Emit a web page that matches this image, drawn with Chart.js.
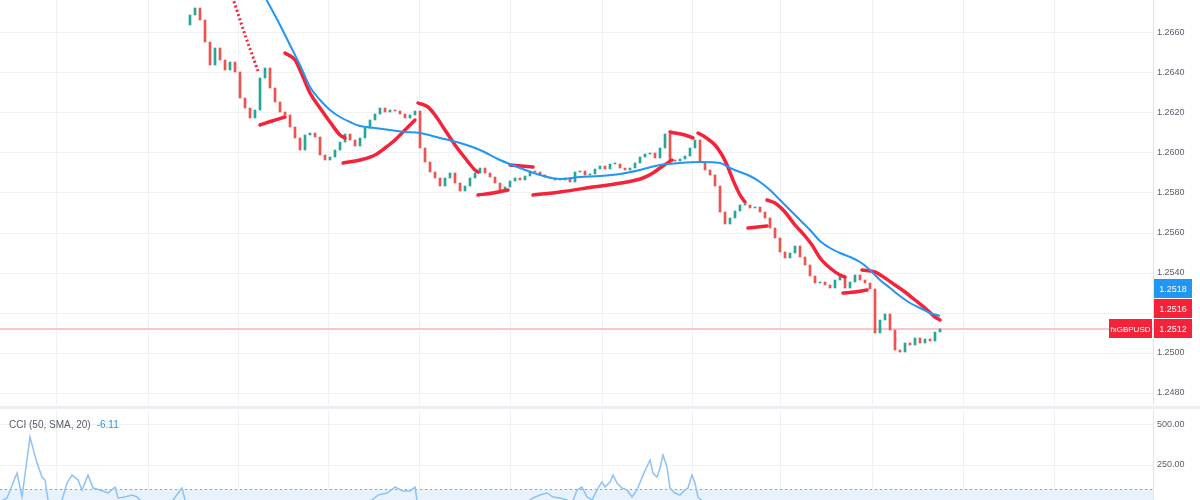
<!DOCTYPE html>
<html><head><meta charset="utf-8">
<script src="https://cdn.jsdelivr.net/npm/chart.js@4.4.1/dist/chart.umd.min.js"></script>
<style>
html,body{margin:0;padding:0;background:#fff;width:1200px;height:500px;overflow:hidden;font-family:"Liberation Sans",Arial,sans-serif;}
#main{position:absolute;left:0;top:0;width:1200px;height:405px;}
#sep{position:absolute;left:0;top:406px;width:1200px;height:3px;background:#eceef2;}
#cci{position:absolute;left:0;top:410px;width:1200px;height:90px;}
#cciLabel{position:absolute;left:9px;top:419px;font-size:10px;line-height:12px;color:#555b66;white-space:nowrap;}
#cciLabel span{color:#2196f3;margin-left:6px;}
</style></head><body>
<div id="main"><canvas id="c1" width="1200" height="405"></canvas></div>
<div id="sep"></div>
<div id="cci"><canvas id="c2" width="1200" height="90"></canvas></div>
<div id="cciLabel">CCI (50, SMA, 20)<span>-6.11</span></div>
<script>
// ---------- data ----------
const symbol = "fxGBPUSD";
const startOpen = 1.2664;
const closes = [
 1.2669, 1.26725, 1.26665, 1.26555, 1.2644, 1.26525, 1.26465, 1.26415, 1.26455, 1.26405,
 1.26275, 1.26225, 1.26175, 1.26215, 1.26375, 1.26425, 1.26325, 1.26255, 1.26205, 1.2619,
 1.2613, 1.26075, 1.26015, 1.2609, 1.2610, 1.2608, 1.2599, 1.25965, 1.2598, 1.26015,
 1.26055, 1.26095, 1.26065, 1.26035, 1.26075, 1.26125, 1.26165, 1.26195, 1.26225, 1.26205,
 1.26215, 1.2621, 1.26195, 1.26175, 1.2619, 1.2621, 1.26025, 1.25955, 1.25905, 1.25875,
 1.25835, 1.25875, 1.2590, 1.2585, 1.2581, 1.25835, 1.25875, 1.2590, 1.25925, 1.2590,
 1.2588, 1.2585, 1.25815, 1.2583, 1.2586, 1.25875, 1.25865, 1.25885, 1.2591, 1.25905,
 1.2589, 1.2588, 1.25875, 1.25865, 1.25865, 1.25875, 1.25855, 1.25905, 1.2591, 1.2589,
 1.25895, 1.2592, 1.25935, 1.2592, 1.25945, 1.25945, 1.25925, 1.25915, 1.25925, 1.2595,
 1.2598, 1.25995, 1.2600, 1.25975, 1.26025, 1.26095, 1.25965, 1.2596, 1.2597, 1.25985,
 1.26025, 1.26065, 1.25955, 1.25915, 1.2589, 1.25835, 1.25705, 1.25645, 1.25675, 1.2571,
 1.2574, 1.2574, 1.25725, 1.2573, 1.25705, 1.25675, 1.25625, 1.25575, 1.25505, 1.25475,
 1.2550, 1.25535, 1.2548, 1.2544, 1.25385, 1.2535, 1.25355, 1.2534, 1.25325, 1.25365,
 1.25385, 1.25325, 1.25355, 1.2539, 1.25365, 1.2535, 1.2532, 1.2510, 1.25165, 1.25195,
 1.25115, 1.25015, 1.25005, 1.2505, 1.2504, 1.25075, 1.2505, 1.2507, 1.2506, 1.25105,
 1.2512
];
const blueIdx = [15,18,20,22,24,26,28,30,32,34,37,40,43,46,50,54,58,62,66,70,74,78,82,86,90,94,98,102,106,108,110,112,114,116,118,120,122,124,126,128,130,132,134,136,138,140,142,144,146,148,150];
const blueVal = [1.2678,1.2664,1.2654,1.2644,1.2633,1.26265,1.26215,1.2618,1.26155,1.26135,1.26125,1.26115,1.26105,1.2610,1.26075,1.2605,1.26015,1.25965,1.25925,1.2589,1.2587,1.2588,1.25885,1.25895,1.25915,1.2594,1.2595,1.25955,1.2595,1.25925,1.25905,1.25885,1.25855,1.25815,1.25765,1.25715,1.25665,1.25615,1.2556,1.25525,1.2550,1.2548,1.25455,1.25415,1.25365,1.25325,1.25285,1.2525,1.25225,1.2520,1.25185];
const redDotted = [[8.5,1.2678],[11,1.2659],[13.6,1.2641]];
const redSegments = [
 [[14,1.2614],[16.4,1.2616],[19,1.2618]],
 [[19,1.2650],[21,1.26465],[22,1.26415],[24,1.2630],[26,1.26225],[28,1.26155],[30,1.2609],[31,1.26075]],
 [[30.6,1.2595],[34,1.25965],[37,1.2599],[39,1.26025],[41,1.26065],[43,1.26115],[45,1.26165]],
 [[45.6,1.2625],[47.6,1.2623],[49,1.2619],[51,1.26115],[53,1.2604],[55,1.25975],[57,1.25915],[57.6,1.25905]],
 [[57.6,1.2579],[60.6,1.2580],[63.6,1.25815]],
 [[64,1.2594],[68.6,1.2593]],
 [[68.6,1.2579],[74,1.25805],[80.6,1.2583],[87.4,1.25855],[90.6,1.25875],[92.6,1.2590],[94,1.25925],[96.4,1.25965]],
 [[96,1.26105],[99,1.2609],[100.6,1.26075]],
 [[101.6,1.2610],[103,1.2608],[105,1.2604],[106.4,1.2599],[107.4,1.2594],[108.6,1.25865],[110,1.2579],[111,1.25755]],
 [[111.6,1.25625],[115.4,1.25635]],
 [[115.4,1.25765],[117,1.2575],[119,1.25705],[121,1.2564],[123,1.25585],[124.4,1.2554],[126,1.25475],[128,1.25425],[130,1.2539],[131,1.2538]],
 [[130.6,1.2530],[133,1.25305],[135.4,1.25315]],
 [[134.4,1.25415],[137,1.25405],[139,1.25375],[141,1.2534],[143,1.25305],[145,1.25265],[147,1.25225],[149,1.2518],[150,1.25165]]
];
const cciIdx = [-38,-36.6,-34.6,-33.6,-32,-30.6,-29.6,-29,-28.4,-27.6,-26,-24.6,-23.6,-22.4,-21.6,-20.4,-19.4,-18,-16.4,-15,-14.4,-13,-11.6,-10.6,-9,-5,-3.4,-1.6,-1,0,2,8,14,20,26,32,35,36.4,37.6,39.4,41,42.6,44,45,45.4,47,54,60,64,67,68.6,70,71.4,72.6,74,75.4,76.4,77.4,78.4,79.4,80.4,81.4,82.4,83,84,84.6,85.4,86.4,87.4,88.4,89.4,90.6,92,92.6,93.4,94,94.6,95.4,96,97,98,99,99.6,100.4,101,101.6,102.6,105,108,114,120,126,132,137,142,146,150];
const cciVal = [20,44,200,50,425,262,175,156,31,-40,-10,137,187,156,94,187,106,94,75,112,44,50,62,50,0,-30,31,106,31,-60,-120,-180,-60,-140,-160,-20,10,31,62,75,112,88,88,112,31,-150,-110,-40,-60,10,44,62,75,50,44,31,10,94,112,50,31,94,144,112,144,187,137,106,94,50,94,187,281,200,175,231,312,237,106,75,62,94,106,187,137,50,20,-120,-200,-150,-180,-120,-60,-180,-150,-60,-6.11];
const priceTicks = [1.2480,1.2500,1.2520,1.2540,1.2560,1.2580,1.2600,1.2620,1.2640,1.2660];
const cciTicks = [250,500];
const cciBand = [-100,100];
const timeTicks = [-26.6,-8.4,9.6,27.6,45.8,64,82.4,100.4,118,136.4,154.6,172.8];

// ---------- style ----------
const FONT = '"Liberation Sans", Arial, sans-serif';
const RED = '#f4233a', BLUE = '#2196f3', UP = '#26a69a', DOWN = '#ef5350';
const GRID = '#f0f1f5', AXIS_W = 47;
const X_MIN = -38, X_MAX = 192.6;

const xScale = () => ({
  type:'linear', min:X_MIN, max:X_MAX, offset:false,
  afterBuildTicks: s => { s.ticks = timeTicks.map(v => ({value:v})); },
  ticks:{display:false}, grid:{color:GRID, drawTicks:false, offset:false}, border:{display:false}
});
const fitY = s => { s.width = AXIS_W; s.paddingTop = 0; s.paddingBottom = 0; };

const candles = closes.map((c,i) => ({x:i, y:[i ? closes[i-1] : startOpen, c]}));
const candleColors = candles.map(d => d.y[1] >= d.y[0] ? UP : DOWN);
const lastClose = closes[closes.length-1];
const blueLast = blueVal[blueVal.length-1];
const lastSeg = redSegments[redSegments.length-1];
const redLast = lastSeg[lastSeg.length-1][1];

const pricePlugin = {
  id:'priceMarks',
  beforeDatasetsDraw(chart){
    const {ctx, chartArea:a, scales:{y}} = chart;
    const py = Math.round(y.getPixelForValue(lastClose));
    ctx.save(); ctx.fillStyle = '#f9c6cb';
    ctx.fillRect(a.left, py - 1, a.right - a.left, 2); ctx.restore();
  },
  afterDraw(chart){
    const {ctx, chartArea:a, scales:{y}} = chart;
    const h = 19;
    const yLast = y.getPixelForValue(lastClose);
    const yRed = Math.min(y.getPixelForValue(redLast), yLast - h - 1);
    const yBlue = Math.min(y.getPixelForValue(blueLast), yRed - h - 1);
    ctx.save();
    ctx.textAlign = 'center'; ctx.textBaseline = 'middle';
    const box = (x, w, cy, col, txt, fs) => {
      ctx.font = fs + 'px ' + FONT;
      ctx.fillStyle = col; ctx.fillRect(x, Math.round(cy - h/2), w, h);
      ctx.fillStyle = '#fff'; ctx.fillText(txt, x + w/2, cy + 0.5);
    };
    box(a.right + 1, 38, yBlue, BLUE, blueLast.toFixed(4), 9);
    box(a.right + 1, 38, yRed, RED, redLast.toFixed(4), 9);
    box(a.right + 1, 38, yLast, RED, lastClose.toFixed(4), 9);
    box(a.right - 44, 43, yLast, RED, symbol, 8);
    ctx.restore();
  }
};

new Chart(document.getElementById('c1'), {
  type:'bar',
  data:{datasets:[
    {type:'line', data: blueIdx.map((x,k) => ({x, y:blueVal[k]})), borderColor:BLUE, borderWidth:2,
     pointRadius:0, tension:0.4, cubicInterpolationMode:'monotone', order:0},
    ...redSegments.map(seg => ({type:'line', data: seg.map(p => ({x:p[0], y:p[1]})), borderColor:RED,
     borderWidth:3.5, pointRadius:0, tension:0.4, cubicInterpolationMode:'monotone', borderCapStyle:'round',
     borderJoinStyle:'round', order:1})),
    {type:'line', data: redDotted.map(p => ({x:p[0], y:p[1]})), borderColor:RED, borderWidth:3,
     borderDash:[2,2.5], pointRadius:0, tension:0, order:1},
    {type:'bar', data: candles, backgroundColor: candleColors, barThickness:2, minBarLength:1, order:5}
  ]},
  options:{
    responsive:false, animation:false, events:[],
    layout:{padding:0},
    plugins:{legend:{display:false}, tooltip:{enabled:false}},
    scales:{
      x: xScale(),
      y:{position:'right', min:1.2474, max:1.26765,
        afterBuildTicks: s => { s.ticks = priceTicks.map(v => ({value:v})); },
        afterFit: fitY,
        ticks:{font:{size:9, family:FONT}, color:'#5d606b', padding:4, crossAlign:'center',
               callback: v => Number(v).toFixed(4)},
        grid:{color:GRID, drawTicks:false}, border:{color:'#e3e5eb'}}
    }
  },
  plugins:[pricePlugin]
});

const cciPlugin = {
  id:'cciBand',
  beforeDatasetsDraw(chart){
    const {ctx, chartArea:a, scales:{y}} = chart;
    const yTop = y.getPixelForValue(cciBand[1]);
    const yBot = Math.min(y.getPixelForValue(cciBand[0]), a.bottom);
    ctx.save();
    ctx.fillStyle = '#e8f2fd';
    ctx.fillRect(a.left, yTop, a.right - a.left, yBot - yTop);
    ctx.strokeStyle = '#9a9ea8'; ctx.lineWidth = 1; ctx.setLineDash([2,3]);
    ctx.beginPath(); ctx.moveTo(a.left, Math.round(yTop)+0.5); ctx.lineTo(a.right, Math.round(yTop)+0.5); ctx.stroke();
    ctx.restore();
  }
};

new Chart(document.getElementById('c2'), {
  type:'line',
  data:{datasets:[
    {data: cciIdx.map((x,k) => ({x, y:cciVal[k]})), borderColor:'#8cc2f5', borderWidth:1.5,
     pointRadius:0, tension:0}
  ]},
  options:{
    responsive:false, animation:false, events:[],
    layout:{padding:0},
    plugins:{legend:{display:false}, tooltip:{enabled:false}},
    scales:{
      x: xScale(),
      y:{position:'right', min:31.25, max:593.75,
        afterBuildTicks: s => { s.ticks = cciTicks.map(v => ({value:v})); },
        afterFit: fitY,
        ticks:{font:{size:9, family:FONT}, color:'#5d606b', padding:4, crossAlign:'center',
               callback: v => Number(v).toFixed(2)},
        grid:{color:GRID, drawTicks:false}, border:{color:'#e3e5eb'}}
    }
  },
  plugins:[cciPlugin]
});
</script>
</body></html>
